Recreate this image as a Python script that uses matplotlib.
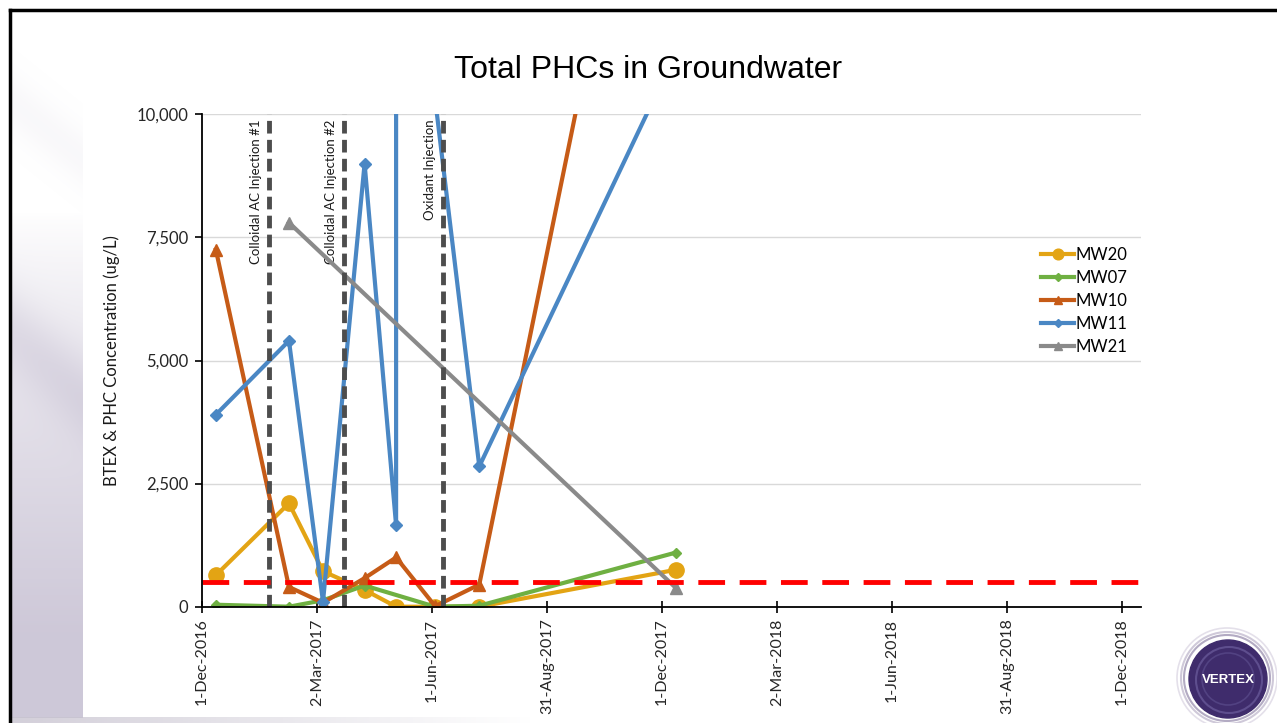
import numpy as np
import pandas as pd
import matplotlib
matplotlib.use("Agg")
import matplotlib.pyplot as plt
import matplotlib.dates as mdates
from matplotlib.patches import Circle
from matplotlib.lines import Line2D

# ---- sampling data (ug/L) ----
mw20_dates = ["2016-12-12", "2017-02-08", "2017-03-07", "2017-04-09", "2017-05-04",
              "2017-06-04", "2017-07-09", "2017-12-12"]
mw20_vals = [640, 2100, 720, 340, 0, 0, 0, 750]

mw07_dates = ["2016-12-12", "2017-02-08", "2017-03-07", "2017-04-09", "2017-06-04",
              "2017-07-09", "2017-12-12"]
mw07_vals = [40, 0, 130, 430, 0, 20, 1100]

mw10_dates = ["2016-12-12", "2017-02-08", "2017-03-07", "2017-04-09", "2017-05-04",
              "2017-06-04", "2017-07-09", "2017-12-12"]
mw10_vals = [7250, 400, 80, 580, 1000, 10, 450, 20000]

mw11_dates = ["2016-12-12", "2017-02-08", "2017-03-07", "2017-04-09", "2017-05-04",
              "2017-05-04", "2017-07-09", "2017-12-12"]
mw11_vals = [3900, 5400, 100, 9000, 1650, 16900, 2850, 11250]

mw21_dates = ["2017-02-08", "2017-12-12"]
mw21_vals = [7800, 380]

events = ["Colloidal AC Injection #1", "Colloidal AC Injection #2", "Oxidant Injection"]
event_dates = ["2017-01-23", "2017-03-24", "2017-06-10"]

guideline = 500

y_ticks = [0, 2500, 5000, 7500, 10000]
x_tick_labels = ["1-Dec-2016", "2-Mar-2017", "1-Jun-2017", "31-Aug-2017", "1-Dec-2017",
                 "2-Mar-2018", "1-Jun-2018", "31-Aug-2018", "1-Dec-2018"]

TXT = ["Lato", "DejaVu Sans"]

W, H = 1277, 723
fig = plt.figure(figsize=(W / 100, H / 100), dpi=100)
fig.patch.set_facecolor("white")

# ---- slide backdrop (pixel coordinates) ----
bg = fig.add_axes([0, 0, 1, 1], zorder=0)
bg.set_xlim(0, W)
bg.set_ylim(H, 0)
bg.axis("off")

# lilac side band on the left
yy, xx = np.mgrid[0:706, 0:71]
base = np.clip((yy - 200) / 420.0, 0, 1) ** 0.8
streak = 0.30 * np.exp(-((yy - 0.9 * xx - 320) / 45.0) ** 2) + 0.12 * np.exp(-((yy - 0.8 * xx - 90) / 30.0) ** 2)
alpha = np.clip(base * 0.95 + streak, 0, 1)
band = np.zeros((706, 71, 4))
band[..., 0] = 203 / 255
band[..., 1] = 197 / 255
band[..., 2] = 214 / 255
band[..., 3] = alpha
bg.imshow(band, extent=(12, 83, 718, 12), aspect="auto", interpolation="bilinear", zorder=1)

# faint strip along the bottom
xs = np.arange(0, 1180)
strip_alpha = np.clip(1 - xs / 520.0, 0, 1) * 0.8
strip = np.zeros((1, len(xs), 4))
strip[..., 0] = 200 / 255
strip[..., 1] = 195 / 255
strip[..., 2] = 208 / 255
strip[0, :, 3] = strip_alpha
bg.imshow(strip, extent=(12, 1192, 723, 717), aspect="auto", interpolation="bilinear", zorder=1)

# slide frame
bg.add_line(Line2D([10, W], [10, 10], color="black", lw=2.5, zorder=3))
bg.add_line(Line2D([10, 10], [10, H], color="black", lw=2.5, zorder=3))

# logo
cx, cy = 1228, 679
for r, c, lw in [(50, "#E4E0EA", 1.2), (46, "#CFC9D9", 1.5), (43, "#B3ABC3", 1.5)]:
    bg.add_patch(Circle((cx - 1, cy - 1), r, fill=False, ec=c, lw=lw, zorder=2))
bg.add_patch(Circle((cx, cy), 39, color="#3F2C6C", zorder=3))
bg.add_patch(Circle((cx + 1, cy + 1), 33, fill=False, ec="#5E4E8E", lw=1.5, zorder=4))
bg.add_patch(Circle((cx, cy), 26, fill=False, ec="#524282", lw=1.2, zorder=4))
bg.text(cx, cy + 1, "VERTEX", color="white", fontsize=9.5, fontweight="bold",
        family=["Liberation Sans", "DejaVu Sans"], ha="center", va="center", zorder=5)

# ---- title ----
fig.text(648 / W, 1 - 70 / H, "Total PHCs in Groundwater", ha="center", va="center",
         fontsize=23, family=["Liberation Sans", "DejaVu Sans"], color="black")

# ---- chart ----
x0, x1 = 202, 1141
y0, y1 = 606.7, 114.3
ax = fig.add_axes([x0 / W, 1 - y0 / H, (x1 - x0) / W, (y0 - y1) / H], zorder=2)
ax.patch.set_alpha(0)

start = pd.Timestamp("2016-12-01")
ax.set_xlim(mdates.date2num(start), mdates.date2num(start) + 745)
ax.set_ylim(0, 10000)

series = [
    ("MW20", mw20_dates, mw20_vals, "#E3A414", "o", 11),
    ("MW07", mw07_dates, mw07_vals, "#6FB042", "D", 5.5),
    ("MW10", mw10_dates, mw10_vals, "#C65B17", "^", 8),
    ("MW11", mw11_dates, mw11_vals, "#4A87C4", "D", 6),
    ("MW21", mw21_dates, mw21_vals, "#8A8A8A", "^", 8),
]
for i, (name, d, v, col, mk, ms) in enumerate(series):
    ax.plot(pd.to_datetime(d), v, color=col, lw=3, marker=mk, ms=ms,
            mec=col, mfc=col, label=name, zorder=3 + i, solid_joinstyle="round")

# treatment events
for lab, d in zip(events, event_dates):
    xd = pd.Timestamp(d)
    ax.axvline(xd, ymin=0, ymax=1, color="#4D4D4D", lw=3.5, ls=(0, (2.6, 1.3)), zorder=10)
    ax.annotate(lab, xy=(xd, 10000), xytext=(-5, -4), textcoords="offset points",
                rotation=90, ha="right", va="top", fontsize=9.5, family=TXT, color="#1A1A1A")

# guideline
ax.axhline(guideline, color="#FF0000", lw=3.5, ls=(0, (5.5, 3.0)), zorder=11)

# axes styling
ax.set_yticks(y_ticks)
ax.set_yticklabels([f"{t:,}" for t in y_ticks], family=TXT, fontsize=12, color="#262626")
tick_nums = mdates.date2num(start) + 91.25 * np.arange(len(x_tick_labels))
ax.set_xticks(tick_nums)
ax.set_xticklabels(x_tick_labels, rotation=90, family=TXT, fontsize=11.5, color="#262626")
ax.tick_params(axis="y", direction="out", length=5, width=1.2, pad=5)
ax.tick_params(axis="x", direction="inout", length=9, width=1.2, pad=4)
ax.grid(axis="y", color="#D9D9D9", lw=1, zorder=0)
ax.set_axisbelow(True)
for s in ["top", "right"]:
    ax.spines[s].set_visible(False)
for s in ["left", "bottom"]:
    ax.spines[s].set_color("black")
    ax.spines[s].set_linewidth(1.3)
    ax.spines[s].set_zorder(12)

ax.set_ylabel("BTEX & PHC Concentration (ug/L)", family=TXT, fontsize=12, color="#1A1A1A", labelpad=12)

leg = ax.legend(loc="upper left", bbox_to_anchor=(1026 / W, 1 - 232 / H),
                bbox_transform=fig.transFigure, frameon=False, handlelength=2.0,
                handletextpad=0.05, labelspacing=0.42, markerscale=0.7,
                prop={"family": TXT, "size": 12})

fig.savefig("out.png", dpi=100)
